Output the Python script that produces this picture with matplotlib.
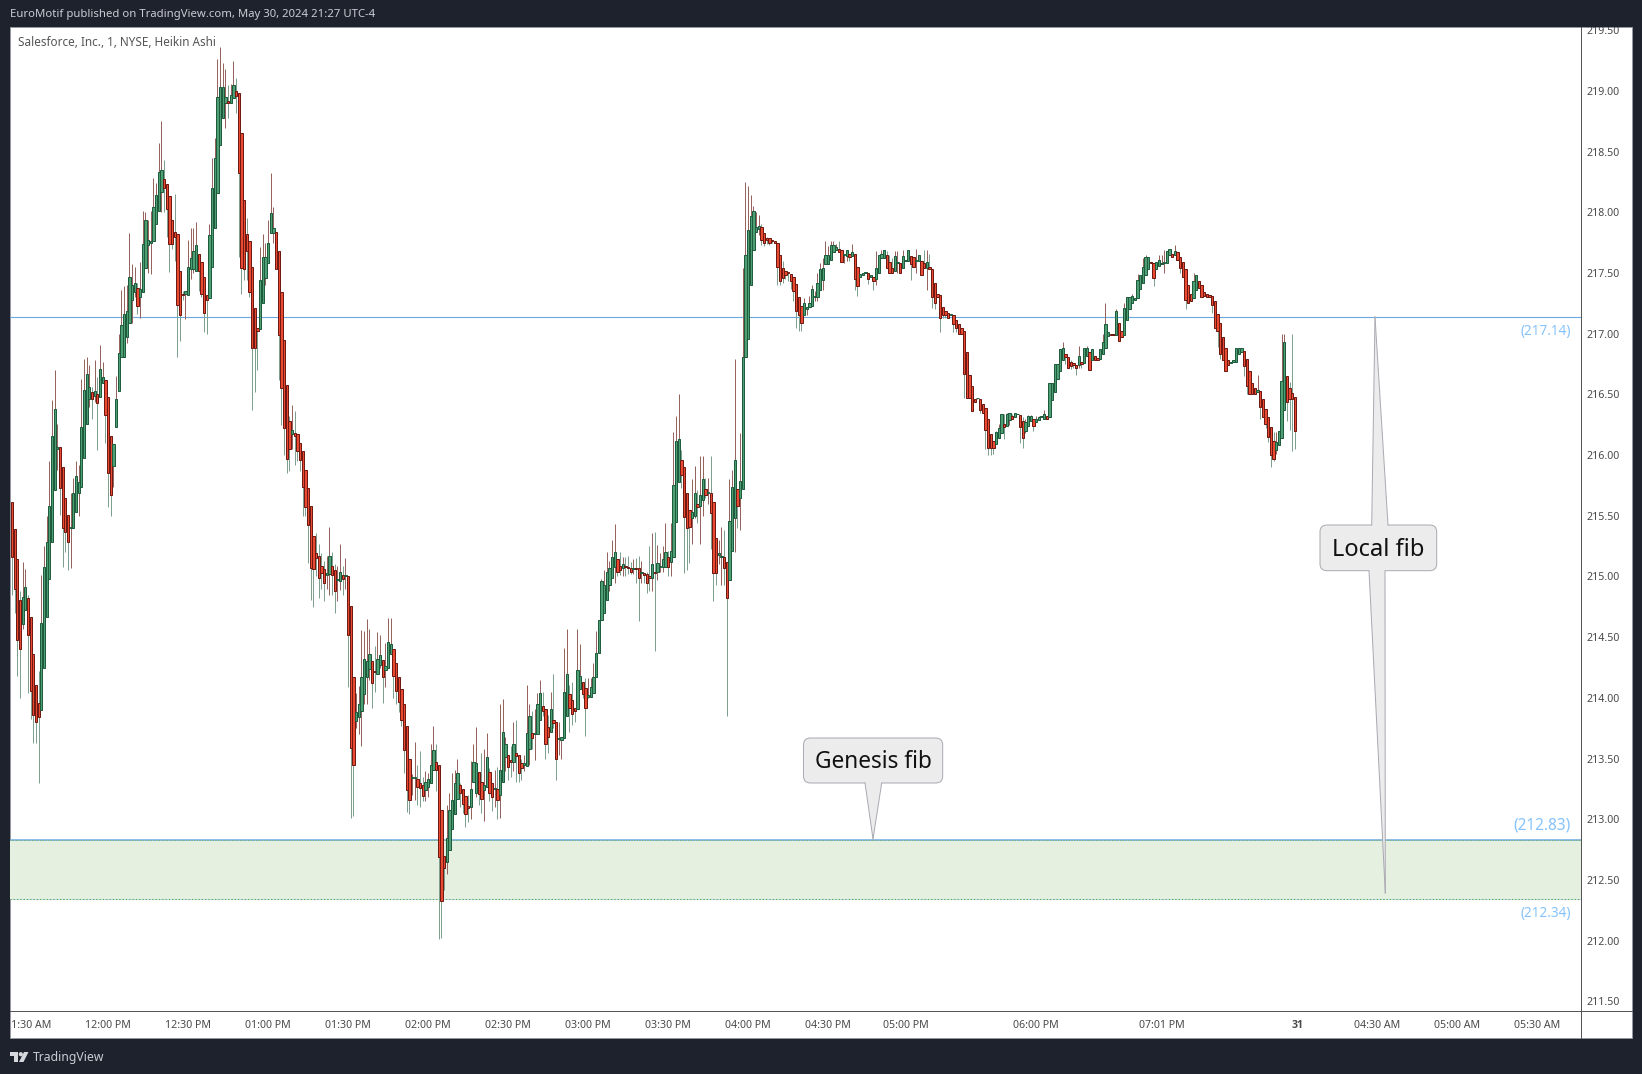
import numpy as np
import matplotlib
matplotlib.use("Agg")
import matplotlib.pyplot as plt
from matplotlib.patches import Rectangle, Polygon, FancyBboxPatch, Circle
from matplotlib.lines import Line2D
from matplotlib.transforms import Affine2D, Bbox, TransformedBbox

# Values: cents above $210, one entry per 1-minute Heikin Ashi bar (rows of ten)
opens = [
561,539,514,481,461,472,482,467,436,411,
396,390,425,467,498,528,571,605,607,590,
565,551,540,540,553,569,574,598,626,646,
652,649,650,648,659,662,648,616,591,623,
653,681,681,697,709,728,734,738,730,734,
754,773,775,776,790,801,817,827,823,813,
794,784,782,752,733,733,732,753,753,752,
766,759,747,732,729,755,787,816,855,878,
890,892,890,894,900,898,865,810,782,776,
755,721,705,704,725,746,758,783,783,784,
768,734,695,658,628,617,618,617,610,603,
588,573,558,533,519,517,509,506,501,502,
509,505,497,496,501,500,500,476,417,381,
384,389,403,417,424,430,422,420,427,431,
423,425,436,440,429,417,407,395,377,350,
334,334,333,330,328,324,327,330,341,347,
345,308,270,265,275,292,304,317,328,325,
319,311,310,331,322,339,331,324,327,339,
330,325,325,320,331,351,353,349,347,355,
353,346,345,344,358,371,370,370,382,393,
391,376,372,382,380,366,365,367,385,403,
398,392,391,407,413,408,401,401,404,417,
437,464,470,481,493,499,508,514,509,507,
509,508,507,506,507,507,503,503,502,500,
499,504,504,508,508,508,516,512,516,545,
578,596,590,569,555,548,550,560,558,563,
572,569,569,561,532,518,516,516,512,497,
521,548,572,565,572,681,696,740,769,784,
786,788,783,779,779,777,776,775,765,754,
752,751,749,747,741,730,723,715,720,722,
723,730,730,736,744,757,757,761,767,769,
770,769,765,764,766,764,766,755,747,748,
750,750,747,747,745,750,762,762,765,759,
754,752,758,758,754,760,760,764,763,760,
760,760,758,754,755,753,742,733,732,722,
719,717,715,715,711,708,705,702,685,666,
657,646,647,646,642,639,630,617,612,609,
614,618,626,624,629,632,631,634,633,628,
620,624,628,630,627,629,631,630,632,631,
645,652,663,669,678,683,681,677,676,674,
674,677,676,682,685,678,682,680,679,683,
688,698,700,700,699,709,702,699,711,720,
725,728,729,737,742,748,753,759,758,753,
756,757,758,758,765,766,765,767,763,759,
753,740,733,729,736,743,740,734,733,732,
731,727,716,709,697,688,678,676,677,677,
683,685,686,679,669,659,655,652,653,646,
638,631,623,612,604,608,614,637,665,655,
651,648]
closes = [
516,490,448,440,483,491,452,406,386,380,
384,462,508,528,558,616,638,607,573,540,
537,528,541,569,583,578,623,654,667,656,
646,653,643,671,664,633,585,567,609,646,
684,707,716,719,747,740,742,723,737,774,
794,777,776,804,814,833,835,820,803,774,
774,780,724,715,732,735,755,762,768,773,
752,733,717,728,781,820,845,895,903,903,
895,890,897,905,896,832,754,753,768,734,
688,688,702,744,763,763,775,799,787,753,
699,655,622,597,605,621,616,603,596,574,
557,542,507,506,515,499,503,495,503,517,
501,488,498,504,498,501,452,359,345,388,
395,417,432,430,436,412,421,432,435,417,
426,446,444,418,406,397,382,357,324,316,
335,335,327,326,319,331,333,345,357,341,
269,233,260,285,308,316,330,338,322,313,
304,309,325,347,346,321,317,328,351,322,
318,326,316,341,372,362,343,347,362,352,
338,342,346,371,385,367,371,395,404,389,
362,368,391,379,350,367,368,405,420,392,
387,389,423,418,403,392,402,409,417,437,
464,496,493,504,507,516,520,504,505,510,
508,507,504,507,506,499,504,501,495,499,
510,503,511,509,514,520,508,521,575,612,
613,584,549,540,541,553,569,557,567,580,
567,570,552,503,503,519,517,507,482,546,
574,596,558,579,681,765,785,797,801,788,
789,777,775,777,775,776,775,755,743,746,
748,750,743,735,719,715,709,725,722,725,
737,731,742,753,754,765,765,773,773,771,
767,759,766,769,763,767,745,739,749,750,
751,745,748,743,754,765,766,769,754,750,
750,764,759,750,764,761,769,757,755,761,
765,748,754,759,753,730,725,730,713,715,
715,713,716,708,705,700,700,667,647,647,
636,644,647,637,635,621,606,606,606,619,
622,634,623,634,635,630,635,634,623,614,
627,632,632,624,630,631,632,634,630,659,
659,675,675,687,688,681,672,673,674,672,
682,675,688,688,670,687,678,678,687,693,
708,701,699,699,719,694,697,721,730,730,
731,729,744,748,755,763,763,758,746,759,
761,758,759,768,770,763,768,761,754,747,
728,725,727,743,748,738,730,731,730,730,
724,705,702,683,678,669,674,677,678,688,
688,688,673,657,650,650,650,654,640,631,
626,615,600,597,611,620,661,693,644,646,
646,620]
highs = [
561,539,514,488,512,506,485,467,436,411,
422,501,525,550,595,645,670,626,607,590,
565,551,569,581,595,592,663,679,681,674,
656,678,664,691,677,662,648,616,609,665,
700,736,739,740,783,757,755,742,759,801,
800,794,801,828,824,857,875,843,823,813,
794,815,782,752,735,735,777,787,787,792,
766,759,747,732,790,845,861,926,936,923,
918,905,906,925,911,898,865,810,795,776,
755,721,705,771,782,775,794,832,804,784,
768,734,695,658,632,641,636,617,610,603,
588,573,558,533,536,527,519,513,517,541,
520,510,509,527,509,515,500,476,417,404,
410,456,455,465,457,430,443,454,452,431,
445,466,466,440,429,417,407,395,377,350,
337,364,345,356,335,340,338,362,377,362,
345,308,270,312,322,338,341,350,330,325,
319,320,348,362,376,339,355,358,371,342,
330,341,343,395,399,368,353,360,380,382,
353,350,353,411,395,389,391,404,415,405,
391,386,405,420,380,380,368,441,457,411,
413,392,457,444,413,416,416,416,429,455,
464,498,505,520,513,530,543,514,520,516,
516,517,512,514,515,517,513,503,504,525,
536,537,526,519,525,544,521,544,619,632,
650,604,590,569,555,580,591,571,599,599,
581,581,599,561,532,530,541,538,512,580,
588,679,572,618,754,825,822,814,805,800,
798,790,783,780,779,777,776,775,765,760,
752,751,749,747,741,730,723,729,722,731,
740,735,750,758,762,776,772,776,776,774,
776,769,766,769,766,774,766,755,749,750,
751,750,748,747,768,765,769,769,768,765,
762,768,768,758,769,761,769,764,763,770,
765,760,769,769,766,753,742,733,732,722,
719,717,716,715,711,708,705,702,685,666,
657,646,647,646,642,639,630,617,612,620,
626,634,634,635,635,634,635,634,633,631,
630,633,633,630,632,632,632,637,632,659,
659,675,675,687,693,683,681,678,676,674,
690,677,688,690,685,687,682,680,687,700,
725,701,700,700,720,709,702,725,730,730,
733,729,749,748,762,765,763,759,758,759,
765,765,769,768,770,766,773,767,763,759,
753,740,733,750,748,743,740,734,733,732,
731,727,716,709,697,688,678,677,678,688,
688,688,686,679,669,659,655,666,653,646,
638,631,623,619,619,620,700,700,665,660,
700,648]
lows = [
485,470,418,400,457,472,404,383,363,363,
330,390,425,467,498,528,571,588,551,508,
520,505,507,540,553,550,574,598,626,640,
630,644,604,648,659,610,557,550,574,623,
653,681,681,692,709,709,730,716,713,734,
754,750,749,776,790,801,800,800,780,751,
770,760,681,694,728,712,732,745,750,752,
735,730,701,700,729,755,787,816,855,878,
869,878,890,894,882,763,733,744,744,730,
637,652,670,704,725,740,758,783,775,753,
662,625,600,585,587,605,592,595,587,550,
550,511,481,475,500,482,490,480,490,485,
485,470,480,489,485,490,409,301,303,375,
370,360,395,395,415,392,405,420,425,396,
409,425,436,400,395,388,377,338,306,304,
320,316,312,310,315,315,318,330,341,323,
201,202,242,255,275,292,304,317,310,305,
294,298,300,331,318,312,305,299,327,315,
307,310,300,301,331,340,332,335,340,331,
331,332,340,344,345,358,349,370,382,385,
350,355,372,375,332,353,350,367,385,372,
378,380,391,407,400,369,400,401,404,417,
437,464,470,481,488,499,495,500,501,500,
500,502,502,502,495,463,495,495,486,488,
488,439,497,504,504,508,500,500,516,545,
578,573,503,505,511,527,548,544,527,550,
565,560,523,480,493,510,493,493,385,497,
521,520,540,538,572,681,696,740,769,784,
781,773,772,774,773,775,775,740,740,742,
745,743,737,727,705,702,702,715,715,722,
723,727,727,736,736,757,757,761,767,769,
767,759,758,760,760,764,736,731,747,748,
750,741,747,736,740,750,762,762,754,750,
750,752,750,750,754,760,760,744,755,750,
760,748,754,736,753,721,720,730,701,713,
713,713,715,701,701,700,700,647,647,647,
636,644,646,635,635,605,600,600,601,609,
614,618,613,624,625,630,631,634,610,606,
618,624,628,620,627,629,631,630,630,631,
645,652,663,669,678,675,672,671,672,666,
672,672,676,682,670,678,678,678,679,683,
688,698,699,699,699,694,697,699,711,720,
725,728,729,737,742,748,753,758,739,753,
756,757,750,758,765,763,765,761,750,747,
720,725,727,729,736,738,730,731,730,730,
717,705,689,679,678,669,674,676,677,677,
683,685,665,650,650,650,650,652,630,631,
622,611,590,595,601,608,614,637,628,621,
603,605]

price_ticks = [211.5,212.0,212.5,213.0,213.5,214.0,214.5,215.0,215.5,216.0,216.5,217.0,217.5,218.0,218.5,219.0,219.5]
time_ticks = [6,36,66,96,126,156,186,216,246,276,306,335,384,431,482,512,542,572]
time_labels = ["11:30 AM","12:00 PM","12:30 PM","01:00 PM","01:30 PM","02:00 PM","02:30 PM","03:00 PM",
               "03:30 PM","04:00 PM","04:30 PM","05:00 PM","06:00 PM","07:01 PM","31","04:30 AM","05:00 AM","05:30 AM"]
fib_levels = [217.14, 212.83, 212.34]
fib_labels = ["(217.14)", "(212.83)", "(212.34)"]

W, H = 1642, 1074
BG = "#1e222d"
FONT = "Noto Sans"
plt.rcParams["font.family"] = [FONT, "DejaVu Sans"]
px = 0.72  # points per pixel at dpi=100

fig = plt.figure(figsize=(W/100, H/100), dpi=100, facecolor=BG)
pix = Affine2D().scale(1, -1).translate(0, H)   # reference-pixel coordinates (y down)

L, R, T, B = 10.3, 1580.5, 27, 1011
OUT_R, OUT_B = 1632, 1038
fig.add_artist(Rectangle((L, T), OUT_R-L, OUT_B-T, transform=pix, fc="white", ec="#9598a1", lw=1*px, zorder=0))

ax = fig.add_axes([L/W, 1-B/H, (R-L)/W, (B-T)/H], facecolor="none", zorder=1)
ax.set_xlim(-0.64, 588.1)
ax.set_ylim(211.421, 219.526)
for s in ax.spines.values():
    s.set_visible(False)

o = 210 + np.array(opens)/100
c = 210 + np.array(closes)/100
h = 210 + np.array(highs)/100
l = 210 + np.array(lows)/100
idx = np.arange(len(o))
up = c >= o

# Fib zone
ax.axhspan(fib_levels[2], fib_levels[1], color="#e5f0e1", lw=0, zorder=1)
ax.axhline(fib_levels[0], color="#6aa9e0", lw=1.1*px, zorder=2)
ax.axhline(fib_levels[1], color="#6aa9e0", lw=1.5*px, zorder=2)
ax.axhline(fib_levels[1], color="#6fb04a", lw=0.9*px, ls=(0,(1,2)), zorder=2.1)
ax.axhline(fib_levels[2], color="#a8cfe4", lw=0.8*px, zorder=2)
ax.axhline(fib_levels[2], color="#5fa83a", lw=1.1*px, ls=(0,(1,2)), zorder=2.1)

# Candles: wick colour is the opposite of the body colour
wick_cols = np.where(up, "#96645f", "#7fa08e")
ax.vlines(idx, l, h, colors=wick_cols, lw=1.0*px, zorder=3)
face = np.where(up, "#4f9f74", "#ea4a32")
edge = np.where(up, "#1f5c3d", "#6e1a12")
body_bot = np.minimum(o, c)
body_h = np.abs(c - o)
ax.bar(idx, body_h, bottom=body_bot, width=0.86, color=face, edgecolor=edge, linewidth=1.0*px, zorder=4)

# Fib value labels
lab_px = [(331, 13.6), (825, 15.4), (913, 13.6)]
for txt, (ypx, size) in zip(fib_labels, lab_px):
    fig.text(1571, ypx, txt, transform=pix, color="#86c3fb", fontsize=size*px, ha="right", va="center", zorder=6)

# Axis ticks
clip = TransformedBbox(Bbox([[L, T], [OUT_R, OUT_B]]), pix)
ax.yaxis.tick_right()
ax.set_yticks(price_ticks)
ax.set_yticklabels([f"{p:.2f}" for p in price_ticks])
ax.tick_params(axis="y", length=0, pad=4.3, labelsize=10.6*px, labelcolor="#4a4a4a")
ax.set_xticks(time_ticks)
ax.set_xticklabels(time_labels)
ax.tick_params(axis="x", length=0, pad=6.2, labelsize=10.6*px, labelcolor="#4a4a4a")
for lb in ax.get_xticklabels() + ax.get_yticklabels():
    lb.set_clip_box(clip)
    lb.set_clip_on(True)
for lb in ax.get_xticklabels():
    if lb.get_text() == "31":
        lb.set_fontfamily("Open Sans")
        lb.set_fontweight("bold")

# Axis separators
fig.add_artist(Line2D([R, R], [T, OUT_B], transform=pix, color="#555555", lw=1.0*px, zorder=5))
fig.add_artist(Line2D([L, OUT_R], [B, B], transform=pix, color="#555555", lw=1.0*px, zorder=5))

# Header, legend and footer
fig.text(10, 15, "EuroMotif published on TradingView.com, May 30, 2024 21:27 UTC-4", transform=pix,
         color="#c9ccd3", fontsize=11.35*px, va="center", ha="left")
fig.text(17.5, 42, "Salesforce, Inc., 1, NYSE, Heikin Ashi", transform=pix,
         color="#555555", fontsize=11.75*px, va="center", ha="left", zorder=6)
fig.text(33, 1057, "TradingView", transform=pix, color="#c9ccd3", fontsize=12.2*px, va="center", ha="left")
fig.add_artist(Polygon([(10,1052),(18,1052),(18,1062),(14,1062),(14,1056),(10,1056)], transform=pix, fc="#d6d8dd", lw=0))
fig.add_artist(Circle((20.8,1054.2), 2.1, transform=pix, fc="#d6d8dd", lw=0))
fig.add_artist(Polygon([(19,1062),(24,1052),(28.5,1052),(23.5,1062)], transform=pix, fc="#d6d8dd", lw=0))

# Callouts
def callout(box, text, tails, size):
    x0, y0, x1, y1 = box
    fc, ec = "#ececed", "#aaaab2"
    fig.add_artist(FancyBboxPatch((x0+7, y0+7), x1-x0-14, y1-y0-14, boxstyle="round,pad=7,rounding_size=7",
                                  transform=pix, fc=fc, ec=ec, lw=1*px, zorder=7))
    for (ax0, ax1, ay, tipx, tipy) in tails:
        inner = ay + (2 if tipy < ay else -2)
        fig.add_artist(Polygon([(ax0, inner), (ax1, inner), (tipx, tipy)], transform=pix, fc=fc, lw=0, zorder=7.1))
        for a in (ax0, ax1):
            fig.add_artist(Line2D([a, tipx], [ay, tipy], transform=pix, color=ec, lw=1*px, zorder=7.2))
    fig.text((x0+x1)/2, (y0+y1)/2 + 2, text, transform=pix, color="#111111", fontsize=size*px,
             ha="center", va="center", zorder=8)

callout((803.5, 738, 942.7, 783), "Genesis fib", [(865, 881.7, 783, 873, 839)], 22.7)
callout((1320, 525, 1436.7, 570.7), "Local fib",
        [(1371.7, 1388, 525, 1375, 317), (1369, 1385, 570.7, 1385.3, 893)], 23.7)

fig.savefig("out.png", dpi=100, facecolor=BG)
